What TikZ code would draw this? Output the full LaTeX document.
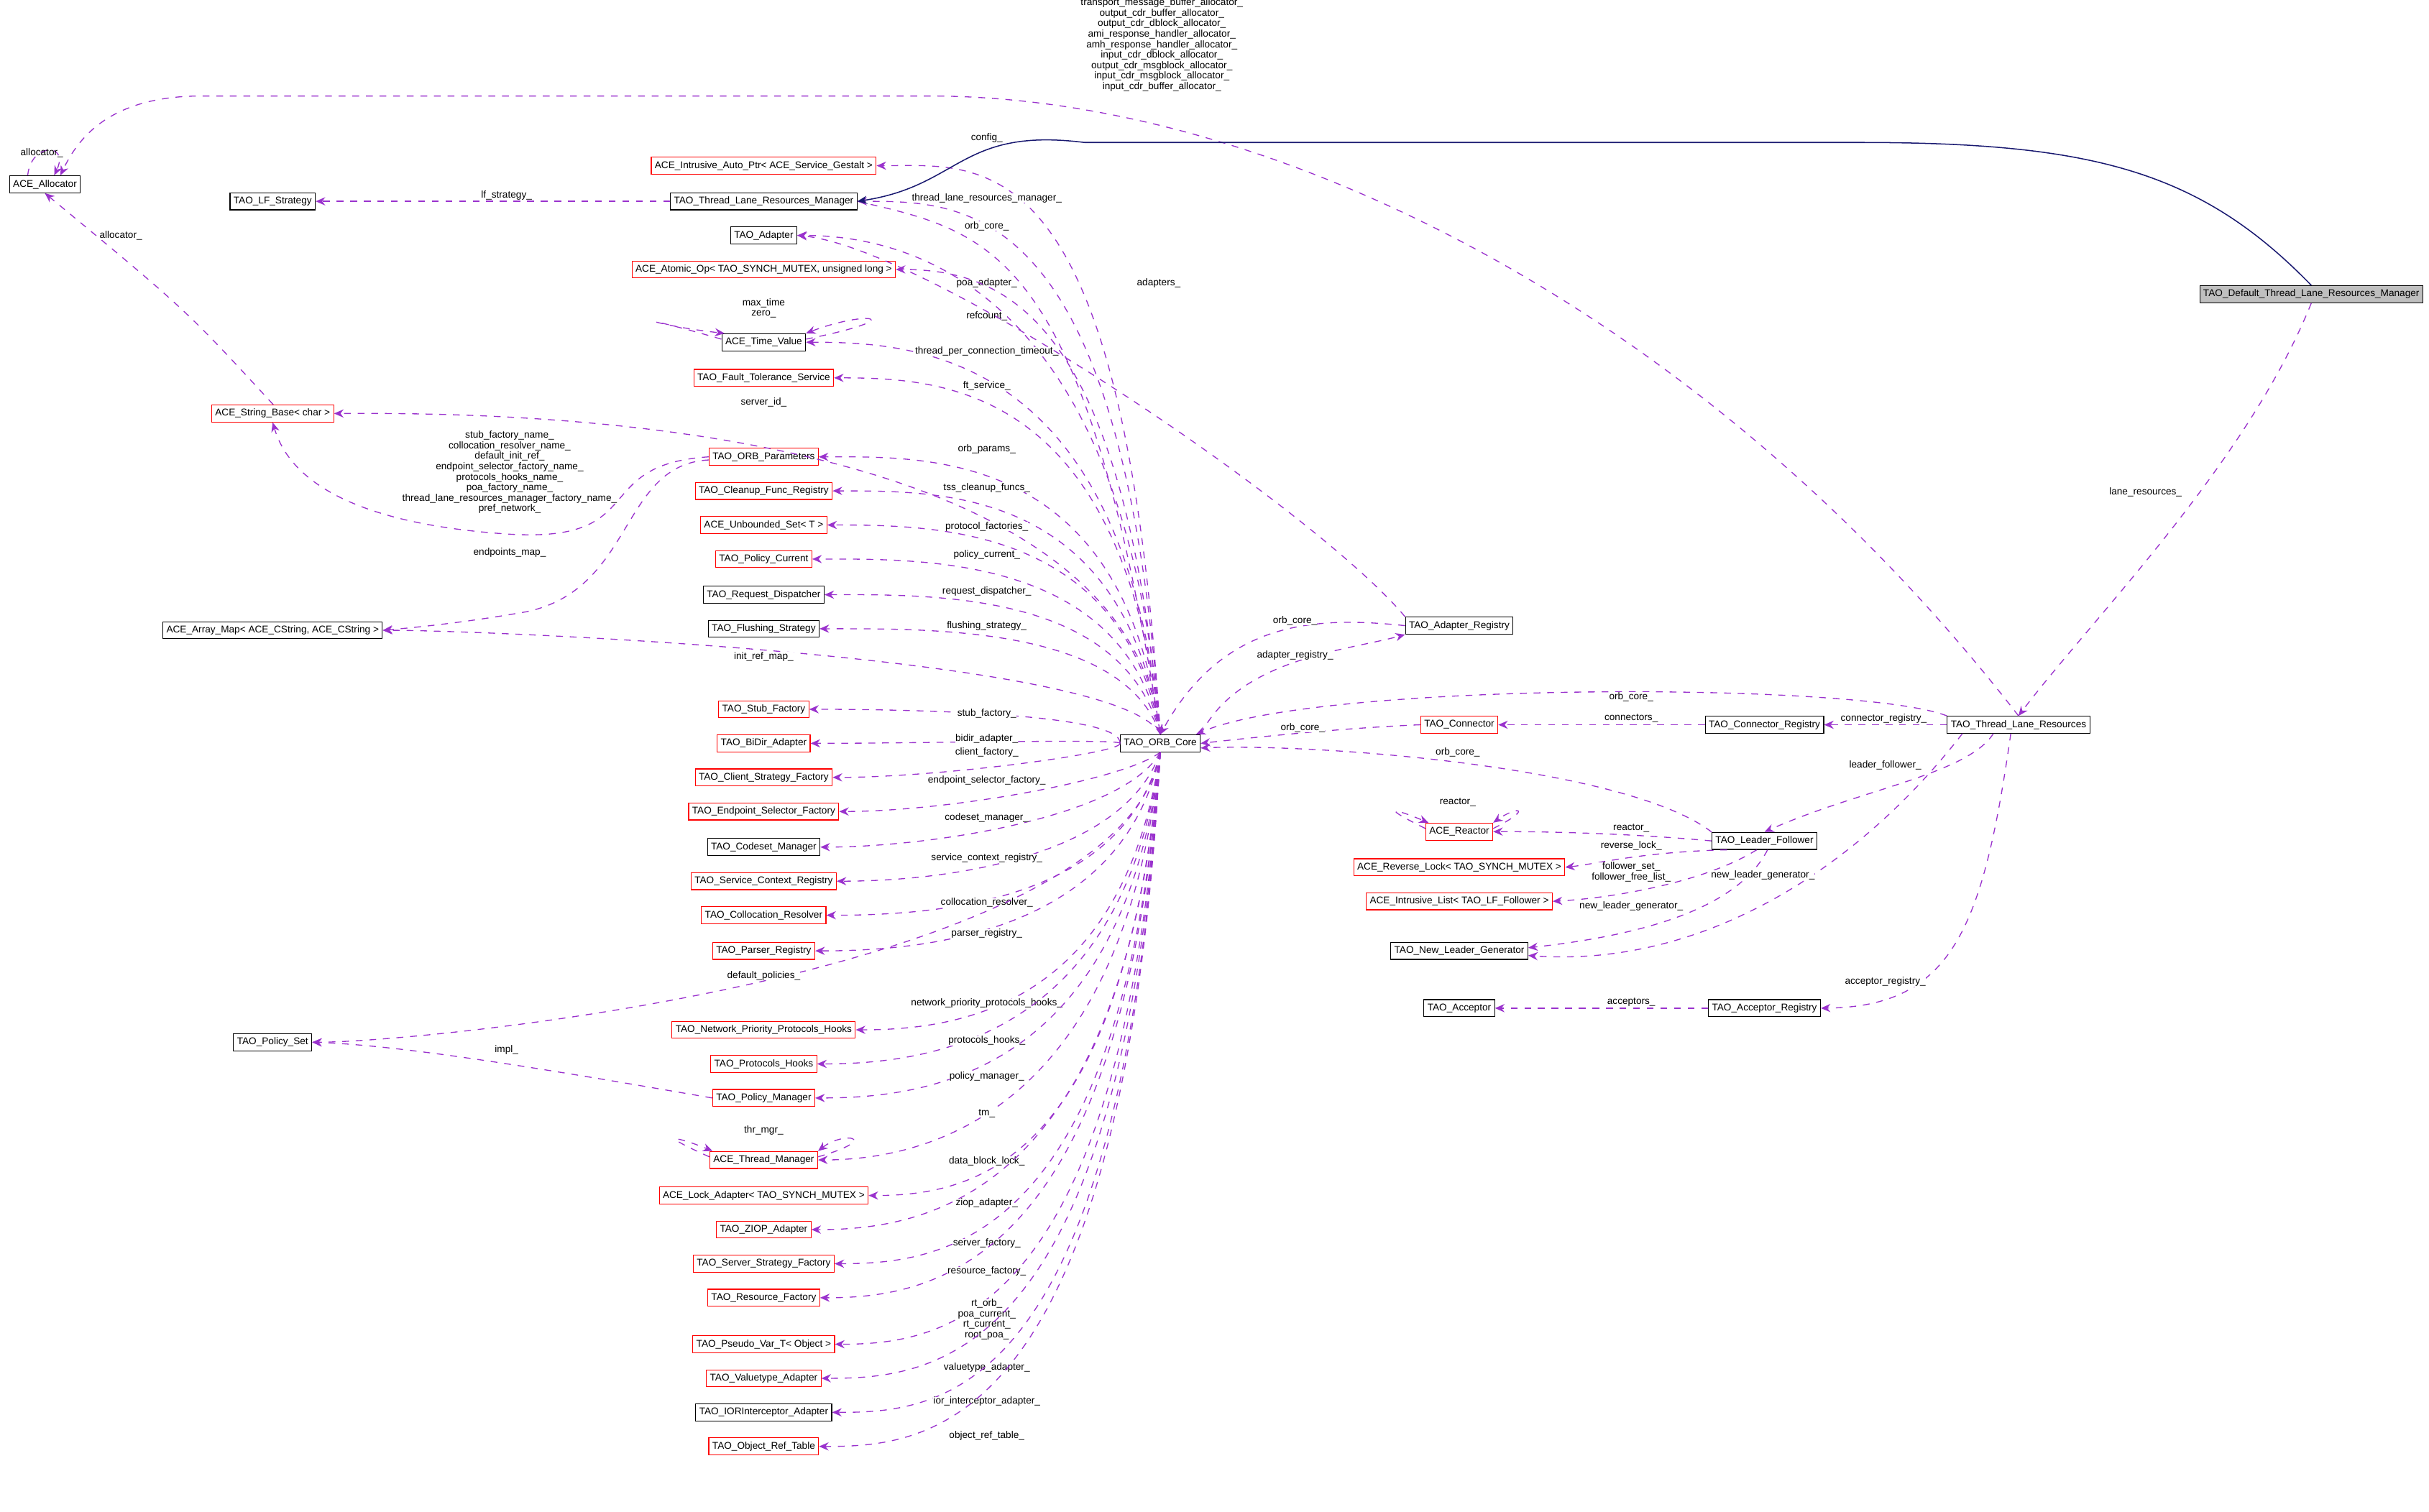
\documentclass[tikz,border=0pt]{standalone}
\usepackage{fontspec}
\setmainfont{Liberation Sans}
\usetikzlibrary{arrows.meta,calc}
\definecolor{dep}{HTML}{9A32CD}
\definecolor{inh}{HTML}{191970}
\tikzset{
  box/.style={draw=#1, fill=white, font=\fontsize{3.6}{4}\selectfont, inner sep=1.3pt, minimum height=0.22cm, line width=0.3pt},
  box/.default=black,
  lbl/.style={font=\fontsize{3.6}{3.85}\selectfont, inner sep=0pt, align=center},
  use/.style={draw=dep, dash pattern=on 2.5pt off 2.5pt, line width=0.35pt, -{Stealth[length=3.5pt,width=3pt,fill=dep]}},
  isa/.style={draw=inh, line width=0.4pt, -{Stealth[length=3.5pt,width=3pt,fill=inh]}}
}
\begin{document}
\begin{tikzpicture}[x=0.02cm,y=-0.02cm]
\useasboundingbox (0,0) rectangle (1568,976);
% left/center column
\node[box] (alloc) at (29,119) {ACE\_Allocator};
\node[box] (lfs) at (176,130) {TAO\_LF\_Strategy};
\node[box=red] (aip) at (493,107) {ACE\_Intrusive\_Auto\_Ptr< ACE\_Service\_Gestalt >};
\node[box] (tlrm) at (493,130) {TAO\_Thread\_Lane\_Resources\_Manager};
\node[box] (adapter) at (493,152) {TAO\_Adapter};
\node[box=red] (atomic) at (493,174) {ACE\_Atomic\_Op< TAO\_SYNCH\_MUTEX, unsigned long >};
\node[box] (tv) at (493,221) {ACE\_Time\_Value};
\node[box=red] (ft) at (493,244) {TAO\_Fault\_Tolerance\_Service};
\node[box=red] (strb) at (176,267) {ACE\_String\_Base< char >};
\node[box=red] (params) at (493,295) {TAO\_ORB\_Parameters};
\node[box=red] (cleanup) at (493,317) {TAO\_Cleanup\_Func\_Registry};
\node[box=red] (uset) at (493,339) {ACE\_Unbounded\_Set< T >};
\node[box=red] (pcur) at (493,361) {TAO\_Policy\_Current};
\node[box] (reqd) at (493,384) {TAO\_Request\_Dispatcher};
\node[box] (flush) at (493,406) {TAO\_Flushing\_Strategy};
\node[box] (amap) at (176,407) {ACE\_Array\_Map< ACE\_CString, ACE\_CString >};
\node[box=red] (stub) at (493,458) {TAO\_Stub\_Factory};
\node[box=red] (bidir) at (493,480) {TAO\_BiDir\_Adapter};
\node[box=red] (client) at (493,502) {TAO\_Client\_Strategy\_Factory};
\node[box=red] (esf) at (493,524) {TAO\_Endpoint\_Selector\_Factory};
\node[box] (codeset) at (493,547) {TAO\_Codeset\_Manager};
\node[box=red] (scr) at (493,569) {TAO\_Service\_Context\_Registry};
\node[box=red] (coll) at (493,591) {TAO\_Collocation\_Resolver};
\node[box=red] (parser) at (493,614) {TAO\_Parser\_Registry};
\node[box] (pset) at (176,673) {TAO\_Policy\_Set};
\node[box=red] (npph) at (493,665) {TAO\_Network\_Priority\_Protocols\_Hooks};
\node[box=red] (ph) at (493,687) {TAO\_Protocols\_Hooks};
\node[box=red] (pm) at (493,709) {TAO\_Policy\_Manager};
\node[box=red] (thrm) at (493,749) {ACE\_Thread\_Manager};
\node[box=red] (lock) at (493,772) {ACE\_Lock\_Adapter< TAO\_SYNCH\_MUTEX >};
\node[box=red] (ziop) at (493,794) {TAO\_ZIOP\_Adapter};
\node[box=red] (ssf) at (493,816) {TAO\_Server\_Strategy\_Factory};
\node[box=red] (rf) at (493,838) {TAO\_Resource\_Factory};
\node[box=red] (pvar) at (493,868) {TAO\_Pseudo\_Var\_T< Object >};
\node[box=red] (valt) at (493,890) {TAO\_Valuetype\_Adapter};
\node[box] (ior) at (493,912) {TAO\_IORInterceptor\_Adapter};
\node[box=red] (ort) at (493,934) {TAO\_Object\_Ref\_Table};
% middle/right
\node[box] (core) at (749,480) {TAO\_ORB\_Core};
\node[box] (areg) at (942,404) {TAO\_Adapter\_Registry};
\node[box=red] (conn) at (942,468) {TAO\_Connector};
\node[box] (creg) at (1139,468) {TAO\_Connector\_Registry};
\node[box] (tlr) at (1303,468) {TAO\_Thread\_Lane\_Resources};
\node[box=red] (reactor) at (942,537) {ACE\_Reactor};
\node[box] (lf) at (1139,543) {TAO\_Leader\_Follower};
\node[box=red] (rlock) at (942,560) {ACE\_Reverse\_Lock< TAO\_SYNCH\_MUTEX >};
\node[box=red] (ilist) at (942,582) {ACE\_Intrusive\_List< TAO\_LF\_Follower >};
\node[box] (nlg) at (942,614) {TAO\_New\_Leader\_Generator};
\node[box] (acc) at (942,651) {TAO\_Acceptor};
\node[box] (accreg) at (1139,651) {TAO\_Acceptor\_Registry};
\node[box, fill={rgb,255:red,191;green,191;blue,191}] (dtlrm) at (1492,190) {TAO\_Default\_Thread\_Lane\_Resources\_Manager};

% ORB_Core member edges
\foreach \t/\l/\lx/\ly/\a in {
 aip/config\_/637/89/north, tlrm/thread\_lane\_resources\_manager\_/637/128/north,
 adapter/poa\_adapter\_/637/183/north, atomic/refcount\_/637/204/north,
 tv/thread\_per\_connection\_timeout\_/637/227/north, ft/ft\_service\_/637/249/north,
 strb/server\_id\_/493/260/north, params/orb\_params\_/637/290/north,
 cleanup/tss\_cleanup\_funcs\_/637/315/north, uset/protocol\_factories\_/637/340/north,
 pcur/policy\_current\_/637/358/north, reqd/request\_dispatcher\_/637/382/north,
 flush/flushing\_strategy\_/637/404/north, amap/init\_ref\_map\_/493/424/north,
 stub/stub\_factory\_/637/461/west, bidir/bidir\_adapter\_/637/477/west,
 client/client\_factory\_/637/486/west, esf/endpoint\_selector\_factory\_/637/504/south,
 codeset/codeset\_manager\_/637/528/south, scr/service\_context\_registry\_/637/554/south,
 coll/collocation\_resolver\_/637/583/south, parser/parser\_registry\_/637/603/south,
 pset/default\_policies\_/493/630/south, npph/network\_priority\_protocols\_hooks\_/637/648/south,
 ph/protocols\_hooks\_/637/672/south, pm/policy\_manager\_/637/695/south,
 thrm/tm\_/637/719/south, lock/data\_block\_lock\_/637/750/south,
 ziop/ziop\_adapter\_/637/777/south, ssf/server\_factory\_/637/803/south,
 rf/resource\_factory\_/637/821/south, pvar/{rt\_orb\_\\poa\_current\_\\rt\_current\_\\root\_poa\_}/637/852/south,
 valt/valuetype\_adapter\_/637/883/south, ior/ior\_interceptor\_adapter\_/637/905/south,
 ort/object\_ref\_table\_/637/927/south}{
  \draw[use] (core.\a) .. controls (725,\ly) and ($(\t.east)+(70,0)$) .. (\t.east);
  \node[lbl, fill=white] (L-\t) at (\lx,\ly) {\l};
}

% self loops
\draw[use] ($(alloc.north west)+(12,0)$) .. controls (20,92) and (45,92) .. ($(alloc.north)+(6,0)$);
\node[lbl] (Lalloc) at (27,99) {allocator\_};
\draw[use] ($(tv.west)+(0,-2)$) .. controls (400,200) and (420,210) .. ($(tv.north west)+(2,0)$);
\draw[use] ($(tv.east)+(0,-2)$) .. controls (590,205) and (560,200) .. (tv.north east);
\node[lbl] (Ltv) at (493,199) {max\_time\\zero\_};
\draw[use] ($(thrm.west)+(0,-2)$) .. controls (420,730) and (440,735) .. ($(thrm.north west)+(2,0)$);
\draw[use] ($(thrm.east)+(0,-2)$) .. controls (570,735) and (545,730) .. (thrm.north east);
\node[lbl] (Lthr) at (493,730) {thr\_mgr\_};
\draw[use] ($(reactor.west)+(0,-2)$) .. controls (890,520) and (900,522) .. ($(reactor.north west)+(2,0)$);
\draw[use] ($(reactor.east)+(0,-2)$) .. controls (990,522) and (980,520) .. (reactor.north east);
\node[lbl] (Lre) at (941,518) {reactor\_};

% other edges
\draw[use] ($(strb.north west)+(40,0)$) .. controls (120,200) .. (alloc.south);
\node[lbl, fill=white] (Lsa) at (78,152) {allocator\_};
\draw[use] (tlrm.west) -- (lfs.east);
\node[lbl, fill=white] (Llf) at (327,126) {lf\_strategy\_};
\draw[use] (params.west) .. controls (380,300) and (420,350) .. (330,345) .. controls (250,340) and (190,320) .. (strb.south);
\node[lbl] (Lstr) at (329,305) {stub\_factory\_name\_\\collocation\_resolver\_name\_\\default\_init\_ref\_\\endpoint\_selector\_factory\_name\_\\protocols\_hooks\_name\_\\poa\_factory\_name\_\\thread\_lane\_resources\_manager\_factory\_name\_\\pref\_network\_};
\draw[use] ($(params.west)+(0,2)$) .. controls (400,300) and (410,380) .. (340,395) .. controls (300,402) and (270,405) .. (amap.east);
\node[lbl] (Lep) at (329,357) {endpoints\_map\_};
\draw[use] (pm.west) .. controls (350,690) and (260,675) .. (pset.east);
\node[lbl] (Limpl) at (327,678) {impl\_};
\draw[use] (tlr.north) .. controls (1100,200) and (820,62) .. (600,62) -- (130,62) .. controls (70,62) and (50,90) .. ($(alloc.north)+(10,0)$);
\node[lbl] (Lbig) at (750,29) {transport\_message\_buffer\_allocator\_\\output\_cdr\_buffer\_allocator\_\\output\_cdr\_dblock\_allocator\_\\ami\_response\_handler\_allocator\_\\amh\_response\_handler\_allocator\_\\input\_cdr\_dblock\_allocator\_\\output\_cdr\_msgblock\_allocator\_\\input\_cdr\_msgblock\_allocator\_\\input\_cdr\_buffer\_allocator\_};
\draw[use] (tlrm.east) .. controls (640,150) and (700,160) .. (core.north);
\node[lbl, fill=white] (Locm) at (637,146) {orb\_core\_};
\draw[use] (areg.north west) .. controls (850,330) and (600,160) .. (adapter.east);
\node[lbl, fill=white] (Lad) at (748,183) {adapters\_};
\draw[use] (areg.west) .. controls (850,398) and (790,400) .. (core.north);
\node[lbl, fill=white] (Loa) at (836,401) {orb\_core\_};
\draw[use] (core.north east) .. controls (800,425) and (870,420) .. (areg.south west);
\node[lbl, fill=white] (Lar) at (836,423) {adapter\_registry\_};
\draw[use] (conn.west) .. controls (870,470) and (820,475) .. (core.east);
\node[lbl, fill=white] (Loc) at (841,470) {orb\_core\_};
\draw[use] (creg.west) -- (conn.east);
\node[lbl, fill=white] (Lcn) at (1053,464) {connectors\_};
\draw[use] (tlr.west) -- (creg.east);
\node[lbl, fill=white] (Lcr) at (1216,464) {connector\_registry\_};
\draw[use] (tlr.north west) .. controls (1200,440) and (850,440) .. ($(core.north east)+(-3,0)$);
\node[lbl, fill=white] (Loct) at (1053,450) {orb\_core\_};
\draw[use] (lf.north west) .. controls (1050,495) and (850,480) .. ($(core.east)+(0,3)$);
\node[lbl, fill=white] (Lolf) at (941,486) {orb\_core\_};
\draw[use] (lf.west) .. controls (1050,538) and (1000,537) .. (reactor.east);
\node[lbl, fill=white] (Lrr) at (1053,535) {reactor\_};
\draw[use] ($(lf.south west)+(10,0)$) .. controls (1060,550) and (1030,558) .. (rlock.east);
\node[lbl, fill=white] (Lrl) at (1053,546) {reverse\_lock\_};
\draw[use] ($(lf.south)+(-5,0)$) .. controls (1100,570) and (1040,580) .. (ilist.east);
\node[lbl, fill=white] (Lfs) at (1053,563) {follower\_set\_\\follower\_free\_list\_};
\draw[use] ($(lf.south)+(2,0)$) .. controls (1120,590) and (1050,605) .. ($(nlg.east)+(0,-2)$);
\node[lbl, fill=white] (Lnl1) at (1053,585) {new\_leader\_generator\_};
\draw[use] ($(tlr.south west)+(10,0)$) .. controls (1200,560) and (1100,625) .. ($(nlg.east)+(0,3)$);
\node[lbl, fill=white] (Lnl2) at (1138,565) {new\_leader\_generator\_};
\draw[use] ($(tlr.south west)+(30,0)$) .. controls (1270,500) and (1200,510) .. (lf.north);
\node[lbl, fill=white] (Llf2) at (1217,494) {leader\_follower\_};
\draw[use] ($(tlr.south)+(-5,0)$) .. controls (1280,600) and (1260,650) .. (accreg.east);
\node[lbl, fill=white] (Lacr) at (1217,634) {acceptor\_registry\_};
\draw[use] (accreg.west) -- (acc.east);
\node[lbl, fill=white] (Lac) at (1053,647) {acceptors\_};
\draw[use] (dtlrm.south) .. controls (1450,300) and (1350,400) .. (tlr.north);
\node[lbl, fill=white] (Llr) at (1385,318) {lane\_resources\_};
\draw[isa] (dtlrm.north) .. controls (1420,110) and (1350,92) .. (1200,92) -- (700,92) .. controls (620,82) and (620,120) .. (tlrm.east);
\end{tikzpicture}
\end{document}
